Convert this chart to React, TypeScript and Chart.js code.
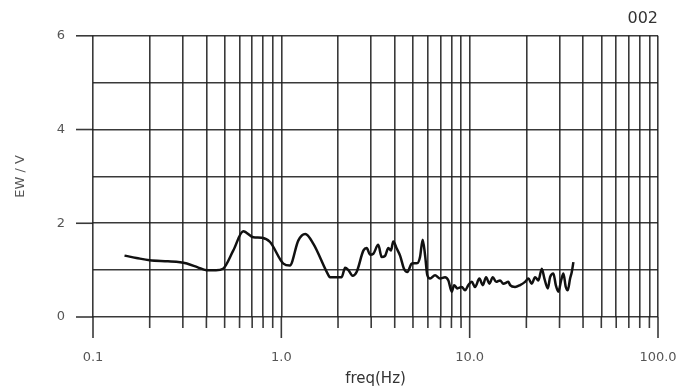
import React, { useEffect, useRef } from "react";
import { Chart, registerables } from "chart.js";

Chart.register(...registerables);

const freqHz: number[] = [
  0.147, 0.17, 0.2, 0.25, 0.29, 0.315, 0.36, 0.4, 0.45, 0.49, 0.556, 0.628, 0.71, 0.787, 0.871,
  1.025, 1.11, 1.23, 1.34, 1.48, 1.78,
  1.81, 2.09, 2.18, 2.27, 2.39, 2.51, 2.73, 2.84, 2.96, 3.08, 3.27, 3.41, 3.55, 3.7, 3.82, 3.93,
  4.1, 4.27, 4.48, 4.67, 4.93, 5.28, 5.45, 5.63, 5.8, 5.96, 6.16, 6.55, 6.96, 7.4, 7.71,
  8.03, 8.27, 8.6, 9.08, 9.45, 9.84, 10.26, 10.68, 11.26, 11.74, 12.22, 12.73, 13.27, 13.81,
  14.5, 15.1, 16.06, 16.39, 17.42, 18.52, 19.69, 20.5, 21.37, 22.25, 23.17, 24.16, 24.94,
  25.99, 26.73, 27.83, 28.67, 29.6, 30.58, 31.45, 32.39, 33.19, 34.14, 34.85, 35.54,
];

const ewV: number[] = [
  1.31, 1.26, 1.21, 1.19, 1.17, 1.14, 1.06, 1.0, 1.0, 1.03, 1.42, 1.83, 1.7, 1.69, 1.6,
  1.14, 1.1, 1.63, 1.77, 1.56, 0.89,
  0.85, 0.85, 1.05, 1.0, 0.88, 0.96, 1.42, 1.47, 1.33, 1.35, 1.54, 1.28, 1.3, 1.47, 1.42, 1.61,
  1.46, 1.31, 1.03, 0.96, 1.14, 1.15, 1.28, 1.65, 1.31, 0.89, 0.82, 0.89, 0.82, 0.85, 0.78,
  0.54, 0.68, 0.61, 0.64, 0.57, 0.68, 0.75, 0.64, 0.82, 0.68, 0.85, 0.71, 0.85, 0.75,
  0.78, 0.71, 0.75, 0.68, 0.64, 0.68, 0.75, 0.82, 0.71, 0.85, 0.78, 1.03, 0.82,
  0.61, 0.85, 0.93, 0.68, 0.54, 0.78, 0.93, 0.64, 0.57, 0.82, 0.96, 1.17,
];

const xTickValues: number[] = [
  0.1, 0.2, 0.3, 0.4, 0.5, 0.6, 0.7, 0.8, 0.9,
  1, 2, 3, 4, 5, 6, 7, 8, 9,
  10, 20, 30, 40, 50, 60, 70, 80, 90, 100,
];
const xMajorTicks: number[] = [0.1, 1, 10, 100];
const xTickLabels: string[] = ["0.1", "1.0", "10.0", "100.0"];
const yLabelTicks: number[] = [0, 2, 4, 6];

const chartId = "002";
const xTitle = "freq(Hz)";
const yTitle = "EW / V";

const GRID = "rgba(30,30,30,0.88)";
const TEXT = "#555";
const FONT = "'DejaVu Sans', sans-serif";

const isMajor = (v: number) => xMajorTicks.some((m) => Math.abs(m - v) / m < 1e-6);

const extrasPlugin = {
  id: "extras",
  afterDraw(chart: any) {
    const { ctx, chartArea, scales } = chart;
    ctx.save();
    ctx.strokeStyle = GRID;
    ctx.lineWidth = 1.6;
    xTickValues.forEach((v) => {
      const px = scales.x.getPixelForValue(v);
      ctx.beginPath();
      ctx.moveTo(px, chartArea.bottom);
      ctx.lineTo(px, chartArea.bottom + (isMajor(v) ? 21 : 11));
      ctx.stroke();
    });
    yLabelTicks.forEach((v) => {
      const py = scales.y.getPixelForValue(v);
      ctx.beginPath();
      ctx.moveTo(chartArea.left - 17, py);
      ctx.lineTo(chartArea.left, py);
      ctx.stroke();
    });
    ctx.fillStyle = "#333";
    ctx.font = `16px ${FONT}`;
    ctx.textAlign = "right";
    ctx.textBaseline = "middle";
    ctx.fillText(chartId, chartArea.right, 19);
    ctx.restore();
  },
};

export default function App() {
  const ref = useRef<HTMLCanvasElement | null>(null);

  useEffect(() => {
    document.body.style.margin = "0";
    const canvas = ref.current;
    if (!canvas) return;
    const chart = new Chart(canvas, {
      type: "line",
      data: {
        datasets: [
          {
            data: freqHz.map((f, i) => ({ x: f, y: ewV[i] })),
            borderColor: "#111",
            borderWidth: 2.5,
            pointRadius: 0,
            cubicInterpolationMode: "monotone",
            fill: false,
          },
        ],
      },
      options: {
        animation: false,
        responsive: false,
        maintainAspectRatio: false,
        layout: { padding: { top: 33, right: 19, left: 0, bottom: 0 } },
        plugins: {
          legend: { display: false },
          tooltip: { enabled: false },
        },
        scales: {
          x: {
            type: "logarithmic",
            min: 0.1,
            max: 100,
            afterBuildTicks: (scale: any) => {
              scale.ticks = xTickValues.map((v) => ({ value: v }));
            },
            afterFit: (scale: any) => {
              scale.height = 72;
              scale.paddingLeft = 0;
              scale.paddingRight = 0;
            },
            grid: { color: GRID, lineWidth: 1.6, drawTicks: false },
            border: { display: false },
            ticks: {
              autoSkip: false,
              maxRotation: 0,
              padding: 33,
              color: TEXT,
              font: { family: FONT, size: 13 },
              callback: (value: any) => {
                const idx = xMajorTicks.findIndex((m) => Math.abs(m - Number(value)) / m < 1e-6);
                return idx >= 0 ? xTickLabels[idx] : "";
              },
            },
            title: {
              display: true,
              text: xTitle,
              color: "#333",
              font: { family: FONT, size: 15 },
              padding: { top: 0, bottom: 1 },
            },
          },
          y: {
            min: 0,
            max: 6,
            afterFit: (scale: any) => {
              scale.width = 93;
            },
            grid: { color: GRID, lineWidth: 1.6, drawTicks: false },
            border: { display: false },
            ticks: {
              stepSize: 1,
              padding: 28,
              color: TEXT,
              font: { family: FONT, size: 13 },
              callback: (value: any) => (yLabelTicks.includes(Number(value)) ? String(value) : ""),
            },
            title: {
              display: true,
              text: yTitle,
              color: TEXT,
              font: { family: FONT, size: 13 },
              padding: { top: 13, bottom: 0 },
            },
          },
        },
      },
      plugins: [extrasPlugin],
    } as any);
    return () => chart.destroy();
  }, []);

  return (
    <div style={{ position: "fixed", left: 0, top: 0, width: 677, height: 389, background: "#fff" }}>
      <canvas ref={ref} width={677} height={389} style={{ width: 677, height: 389 }} />
    </div>
  );
}
